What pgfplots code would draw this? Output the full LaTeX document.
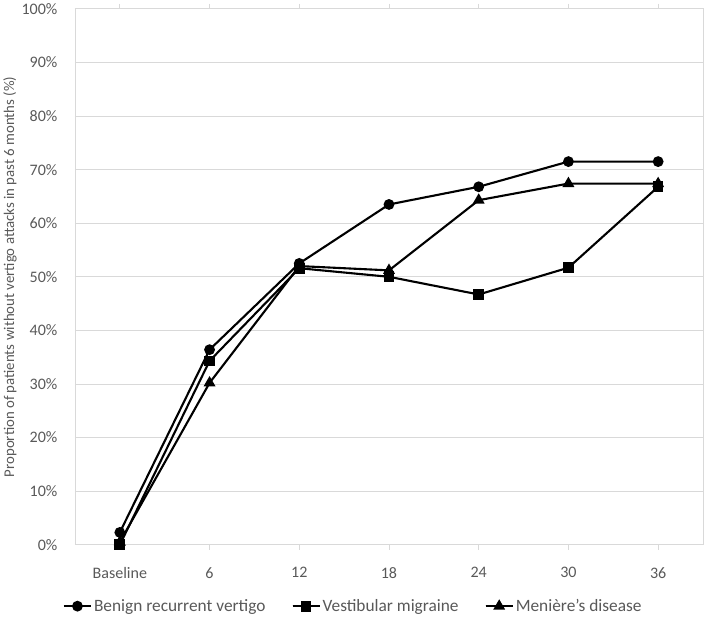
\documentclass[border=0pt]{standalone}
\usepackage{fontspec}
\setmainfont{Carlito}
\usepackage{pgfplots}
\pgfplotsset{compat=1.18}
\definecolor{txtgrey}{HTML}{595959}
\definecolor{gridgrey}{HTML}{D9D9D9}

\begin{document}
\begin{tikzpicture}
\begin{axis}[
  scale only axis, width=627pt, height=535pt,
  xmin=-0.5, xmax=6.5, ymin=0, ymax=100,
  xtick={0,...,6}, xticklabels={Baseline,6,12,18,24,30,36},
  ytick={0,10,...,100},
  yticklabel={\pgfmathprintnumber{\tick}\%},
  /pgf/number format/assume math mode=true,
  font=\fontsize{16}{19}\selectfont,
  tick label style={text=txtgrey},
  ymajorgrids, grid style={gridgrey, line width=0.9pt},
  axis line style={gridgrey, line width=0.9pt},
  xtick style={gridgrey, line width=0.9pt},
  ytick style={draw=none},
  tick align=outside, major tick length=5pt,
  xticklabel style={yshift=-14pt},
  yticklabel style={xshift=-9pt},
  ylabel={Proportion of patients without vertigo attacks in past 6 months (\%)},
  ylabel style={text=txtgrey, font=\fontsize{14.8}{17}\selectfont, yshift=-2pt},
  legend style={at={(0.443,-0.094)}, anchor=north, draw=none, legend columns=3,
    font=\fontsize{17.3}{20}\selectfont, text=txtgrey,
    /tikz/every even column/.append style={column sep=24pt}},
  legend image code/.code={
    \draw[#1] (0pt,0pt) -- (27pt,0pt);
    \draw[#1, mark repeat=2, mark phase=2] plot coordinates {(0pt,0pt) (13.5pt,0pt) (27pt,0pt)};},
  every axis plot/.append style={black, line width=2.1pt},
]
\addplot[mark=*, mark size=4.3pt] coordinates {
  (0,2.3) (1,36.4) (2,52.5) (3,63.5) (4,66.8) (5,71.5) (6,71.5)};
\addplot[mark=square*, mark size=4.3pt] coordinates {
  (0,0) (1,34.3) (2,51.6) (3,50.0) (4,46.7) (5,51.7) (6,66.8)};
\addplot[mark=triangle*, mark size=4.8pt] coordinates {
  (0,0.5) (1,30.2) (2,52.0) (3,51.2) (4,64.3) (5,67.4) (6,67.4)};
\legend{Benign recurrent vertigo, Vestibular migraine, Meni\`ere's disease}
\end{axis}
\end{tikzpicture}
\end{document}
